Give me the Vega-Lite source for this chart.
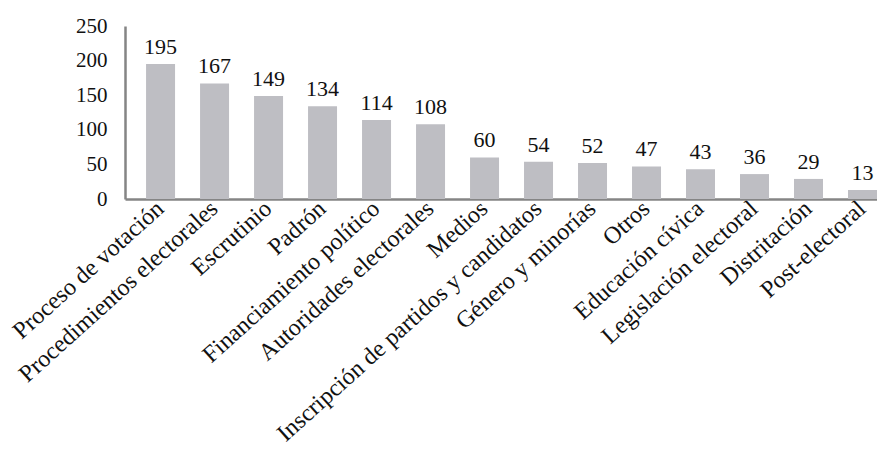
{
  "$schema": "https://vega.github.io/schema/vega-lite/v6.json",
  "width": 752,
  "height": 173,
  "autosize": {"type": "none"},
  "padding": {"left": 125, "top": 26, "right": 0, "bottom": 254},
  "background": "white",
  "config": {
    "view": {"stroke": null},
    "font": "Liberation Serif",
    "axis": {"grid": false, "ticks": false, "domainColor": "#858585", "domainWidth": 2.5, "labelColor": "#111111", "labelFont": "Liberation Serif", "title": null}
  },
  "data": {
    "values": [
      {"tema": "Proceso de votación", "n": 195},
      {"tema": "Procedimientos electorales", "n": 167},
      {"tema": "Escrutinio", "n": 149},
      {"tema": "Padrón", "n": 134},
      {"tema": "Financiamiento político", "n": 114},
      {"tema": "Autoridades electorales", "n": 108},
      {"tema": "Medios", "n": 60},
      {"tema": "Inscripción de partidos y candidatos", "n": 54},
      {"tema": "Género y minorías", "n": 52},
      {"tema": "Otros", "n": 47},
      {"tema": "Educación cívica", "n": 43},
      {"tema": "Legislación electoral", "n": 36},
      {"tema": "Distritación", "n": 29},
      {"tema": "Post-electoral", "n": 13}
    ]
  },
  "encoding": {
    "x": {
      "field": "tema", "type": "nominal", "sort": null,
      "scale": {"paddingInner": 0.463, "paddingOuter": 0.195, "align": 1},
      "axis": {"labelAngle": -42, "labelAlign": "right", "labelBaseline": "middle", "labelFontSize": 24, "labelPadding": 6, "labelLimit": 500}
    },
    "y": {
      "field": "n", "type": "quantitative",
      "scale": {"domain": [0, 250], "nice": false},
      "axis": {"values": [0, 50, 100, 150, 200, 250], "labelFontSize": 21, "labelPadding": 18}
    }
  },
  "layer": [
    {"mark": {"type": "bar", "color": "#bebec3"}},
    {"mark": {"type": "text", "dy": -5, "baseline": "bottom", "fontSize": 22, "color": "#111111", "font": "Liberation Serif"}, "encoding": {"text": {"field": "n", "type": "quantitative"}}}
  ]
}
